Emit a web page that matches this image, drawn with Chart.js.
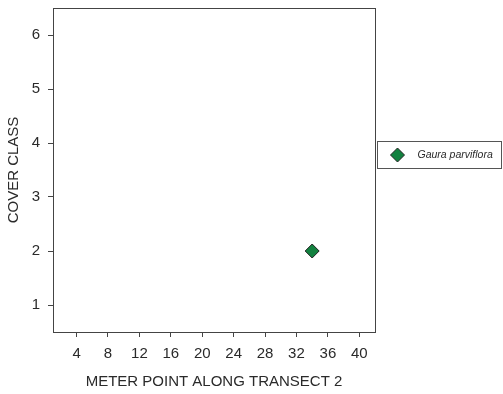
<!DOCTYPE html>
<html>
<head>
<meta charset="utf-8">
<script src="https://cdn.jsdelivr.net/npm/chart.js@4"></script>
<style>
  html, body { margin: 0; padding: 0; background: #fff; }
  #wrap { width: 503px; height: 394px; }
</style>
</head>
<body>
<div id="wrap"><canvas id="c" width="503" height="394"></canvas></div>
<script>
const seriesName = 'Gaura parviflora';
const meterPoints = [34];
const coverClass = [2];
const xTicks = [4, 8, 12, 16, 20, 24, 28, 32, 36, 40];
const yTicks = [1, 2, 3, 4, 5, 6];

const axisColor = '#444';
const textColor = '#2a2a2a';
const pointColor = '#12813f';
const fontFamily = '"Liberation Sans", Arial, sans-serif';

// box round the plot and legend on the right
const framePlugin = {
    id: 'frame',
    afterDraw(chart) {
        const { ctx, chartArea: a } = chart;
        ctx.save();
        ctx.strokeStyle = axisColor;
        ctx.lineWidth = 1;
        ctx.strokeRect(Math.round(a.left) + 0.5, Math.round(a.top) + 0.5,
            Math.round(a.right - a.left), Math.round(a.bottom - a.top));

        // legend
        const lx = 377.5, ly = 141.5, lw = 124, lh = 27;
        ctx.strokeStyle = '#555';
        ctx.strokeRect(lx, ly, lw, lh);
        const cx = lx + 20, cy = ly + lh / 2, r = 7;
        ctx.beginPath();
        ctx.moveTo(cx, cy - r);
        ctx.lineTo(cx + r, cy);
        ctx.lineTo(cx, cy + r);
        ctx.lineTo(cx - r, cy);
        ctx.closePath();
        ctx.fillStyle = pointColor;
        ctx.fill();
        ctx.strokeStyle = '#222';
        ctx.stroke();
        ctx.fillStyle = textColor;
        ctx.font = 'italic 10.5px ' + fontFamily;
        ctx.textBaseline = 'middle';
        ctx.fillText(seriesName, lx + 40, cy);
        ctx.restore();
    }
};

new Chart(document.getElementById('c'), {
    type: 'scatter',
    data: {
        datasets: [{
            label: seriesName,
            data: meterPoints.map((x, i) => ({ x: x, y: coverClass[i] })),
            pointStyle: 'rectRot',
            pointRadius: 7,
            pointHoverRadius: 7,
            backgroundColor: pointColor,
            borderColor: '#222',
            borderWidth: 1
        }]
    },
    options: {
        responsive: false,
        animation: false,
        layout: { padding: { top: 8, right: 128, left: 5, bottom: 3 } },
        plugins: {
            legend: { display: false },
            tooltip: { enabled: false }
        },
        scales: {
            x: {
                type: 'linear',
                min: 1,
                max: 42,
                afterBuildTicks(axis) { axis.ticks = xTicks.map(v => ({ value: v })); },
                afterFit(axis) { axis.paddingLeft = 0; axis.paddingRight = 0; axis.height = 59; },
                grid: { display: true, drawOnChartArea: false, tickLength: 5, color: axisColor },
                border: { display: true, color: axisColor },
                ticks: {
                    color: textColor,
                    font: { size: 15, family: fontFamily },
                    padding: 8,
                    maxRotation: 0
                },
                title: {
                    display: true,
                    text: 'METER POINT ALONG TRANSECT 2',
                    color: textColor,
                    font: { size: 15, family: fontFamily },
                    padding: { top: 10, bottom: 0 }
                }
            },
            y: {
                type: 'linear',
                min: 0.5,
                max: 6.5,
                afterBuildTicks(axis) { axis.ticks = yTicks.map(v => ({ value: v })); },
                afterFit(axis) { axis.paddingTop = 0; axis.paddingBottom = 0; axis.width = 48; },
                grid: { display: true, drawOnChartArea: false, tickLength: 5, color: axisColor },
                border: { display: true, color: axisColor },
                ticks: {
                    color: textColor,
                    font: { size: 15, family: fontFamily },
                    padding: 8
                },
                title: {
                    display: true,
                    text: 'COVER CLASS',
                    color: textColor,
                    font: { size: 15, family: fontFamily },
                    padding: { top: 0, bottom: 9 }
                }
            }
        }
    },
    plugins: [framePlugin]
});
</script>
</body>
</html>
